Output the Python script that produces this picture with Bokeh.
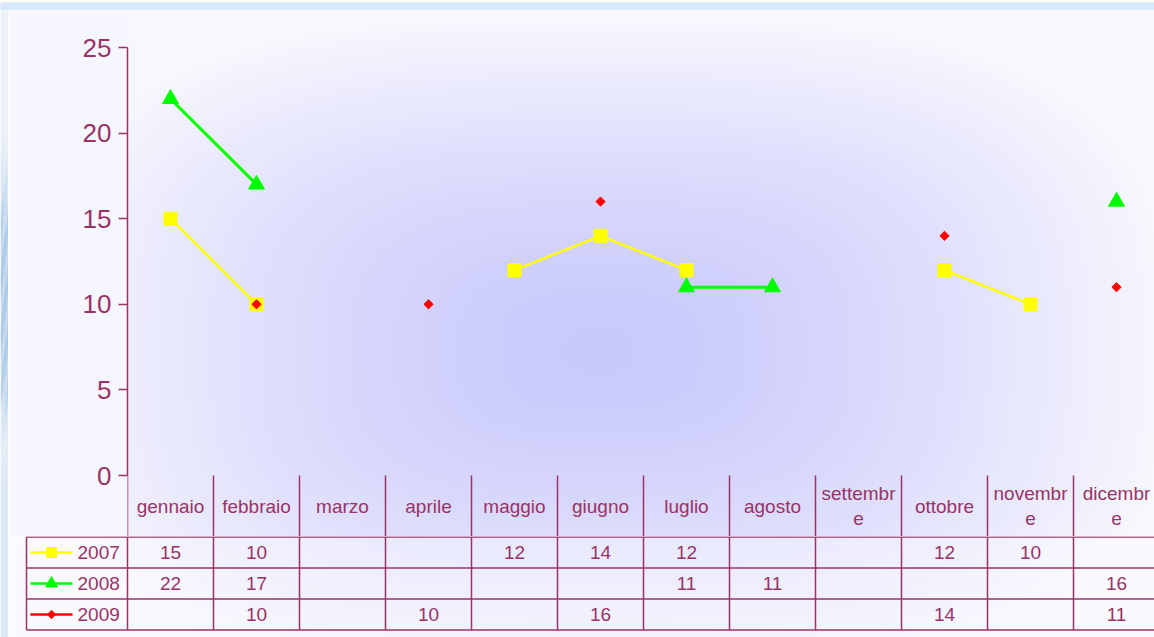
import numpy as np
from bokeh.plotting import figure
from bokeh.models import Range1d, FixedTicker, Grid
from bokeh.layouts import column, row
from bokeh.embed import file_html
from bokeh.resources import INLINE
from bokeh.core.properties import value

# ---------------- data ----------------
months = ["gennaio", "febbraio", "marzo", "aprile", "maggio", "giugno",
          "luglio", "agosto", "settembre", "ottobre", "novembre", "dicembre"]
month_labels = ["gennaio", "febbraio", "marzo", "aprile", "maggio", "giugno",
                "luglio", "agosto", "settembr\ne", "ottobre", "novembr\ne", "dicembr\ne"]
nan = float("nan")
s2007 = [15, 10, nan, nan, 12, 14, 12, nan, nan, 12, 10, nan]
s2008 = [22, 17, nan, nan, nan, nan, 11, 11, nan, nan, nan, 16]
s2009 = [nan, 10, nan, 10, nan, 16, nan, nan, nan, 14, nan, 11]
series_names = ["2007", "2008", "2009"]
y_ticks = [0, 5, 10, 15, 20, 25]

# ---------------- style / layout constants (page pixels) ----------------
FONT = "Liberation Sans"
PLUM = "#993366"
COLORS = ["#FFFF00", "#00FF00", "#FF0000"]
PAGE_W, PAGE_H = 1154, 637
STRIP_TOP = 10
STRIP_LEFT = 8
AXIS_X = 127        # page x of y axis
COLW = 86           # px per category
ZERO_PY = 475       # page y of value 0
PXU = 428 / 25      # px per y unit
HEAD_BOTTOM = 536   # page y of header-row bottom
TABLE_BOTTOM = 629.5
ROW_H = 31

n = len(months)
xc = [i + 0.5 for i in range(n)]
bounds_x = list(range(n + 1))
W = PAGE_W - STRIP_LEFT
H1 = HEAD_BOTTOM - STRIP_TOP
H2 = PAGE_H - HEAD_BOTTOM
x_end = (PAGE_W - AXIS_X) / COLW
y_bottom = -(HEAD_BOTTOM - ZERO_PY) / PXU
y_top = (ZERO_PY - STRIP_TOP) / PXU


def pack(r, g, b):
    img = np.empty(r.shape, dtype=np.uint32)
    v = img.view(dtype=np.uint8).reshape(r.shape + (4,))
    v[..., 0] = np.clip(r, 0, 255).astype(np.uint8)
    v[..., 1] = np.clip(g, 0, 255).astype(np.uint8)
    v[..., 2] = np.clip(b, 0, 255).astype(np.uint8)
    v[..., 3] = 255
    return img


def lavender(xr, yr):
    cx, cy, rx, ry = 600.0, 350.0, 560.0, 330.0
    p = 3.0
    d = ((np.abs(xr - cx) / rx) ** p + (np.abs(yr - cy) / ry) ** p) ** (1 / p)
    t = np.clip(1 - d ** 1.4, 0, 1)
    inner = (201, 201, 252)
    outer = (247, 247, 254)
    return pack(*[outer[k] + (inner[k] - outer[k]) * t for k in range(3)])


def bare(width, height, xr=(0, 1), yr=(0, 1)):
    f = figure(width=width, height=height, output_backend="svg", toolbar_location=None,
               x_range=Range1d(*xr), y_range=Range1d(*yr),
               x_axis_location=None, y_axis_location=None,
               min_border_left=0, min_border_right=0, min_border_top=0, min_border_bottom=0)
    try:
        f.frame_align = False
    except Exception:
        pass
    f.outline_line_color = None
    f.grid.visible = False
    return f


# ---------------- decorative slide strips ----------------
top_strip = bare(PAGE_W, STRIP_TOP)
top_strip.background_fill_color = "#D8E7F9"
top_strip.border_fill_color = "#D8E7F9"
top_strip.quad(left=[0], right=[1], bottom=[0], top=[1], fill_color="#D8E7F9", line_color=None)

left_strip = bare(STRIP_LEFT, PAGE_H - STRIP_TOP)
ly = np.arange(STRIP_TOP, PAGE_H)[::-1].astype(float)
lx = np.arange(STRIP_LEFT).astype(float)
LX, LY = np.meshgrid(lx, ly)
blue = np.exp(-((LY - 300) / 120.0) ** 4) * (0.75 + 0.25 * np.cos(LY / 9.0 + LX))
low = np.clip((LY - 420) / 80.0, 0, 1) * 0.25
amt = np.maximum(blue, low)
left_strip.image_rgba(image=[pack(236 - 66 * amt, 242 - 42 * amt, 250 - 20 * amt)],
                      x=0, y=0, dw=1, dh=1)

# ---------------- chart figure (plot + header row) ----------------
p1 = figure(width=W, height=H1, output_backend="svg", toolbar_location=None,
            x_range=Range1d(0, x_end), y_range=Range1d(y_bottom, y_top),
            x_axis_location=None, y_axis_location="left",
            min_border_left=AXIS_X - STRIP_LEFT, min_border_right=0,
            min_border_top=0, min_border_bottom=0)
try:
    p1.frame_align = False
except Exception:
    pass
p1.outline_line_color = None
p1.border_fill_color = "#F6F6FE"
p1.background_fill_color = "#F2F2FE"

nx, ny = 257, 132
gx = AXIS_X + (np.arange(nx) + 0.5) * ((PAGE_W - AXIS_X) / nx)
gy = HEAD_BOTTOM - (np.arange(ny) + 0.5) * (H1 / ny)
XX, YY = np.meshgrid(gx, gy)
p1.image_rgba(image=[lavender(XX, YY)], x=0, y=y_bottom, dw=x_end, dh=y_top - y_bottom)

ax = p1.yaxis[0]
ax.ticker = FixedTicker(ticks=y_ticks)
ax.bounds = (0, 25)
ax.axis_line_color = PLUM
ax.axis_line_width = 1.5
ax.major_tick_line_color = PLUM
ax.major_tick_line_width = 1.5
ax.major_tick_out = 9
ax.major_tick_in = 0
ax.minor_tick_out = 0
ax.minor_tick_in = 0
ax.major_label_text_font = FONT
ax.major_label_text_font_size = "26px"
ax.major_label_text_color = PLUM
ax.major_label_standoff = 7

p1.xgrid.visible = False
p1.ygrid.ticker = FixedTicker(ticks=y_ticks[:-1])
p1.ygrid.grid_line_color = PLUM
p1.ygrid.grid_line_width = 1.3
p1.add_layout(Grid(dimension=1, ticker=FixedTicker(ticks=y_ticks[-1:]),
                   grid_line_color="#E8CEDC", grid_line_width=2))

# header row of the data table
p1.segment(x0=bounds_x, y0=[0] * (n + 1), x1=bounds_x, y1=[y_bottom] * (n + 1),
           line_color=PLUM, line_width=1.5)
p1.text(x=xc, y=[y_bottom / 2] * n, text=month_labels,
        text_font=value(FONT), text_font_size="19px", text_color=PLUM,
        text_align="center", text_baseline="middle", text_line_height=1.2)

# series
data = [s2007, s2008, s2009]
p1.line(xc, s2007, line_color=COLORS[0], line_width=2.5)
p1.line(xc, s2008, line_color=COLORS[1], line_width=3)
p1.line(xc, s2009, line_color=COLORS[2], line_width=2.5)
p1.scatter(xc, s2007, marker="square", size=13, fill_color=COLORS[0], line_color=COLORS[0])
p1.scatter(xc, s2008, marker="triangle", size=16, fill_color=COLORS[1], line_color=COLORS[1])
p1.scatter(xc, s2009, marker="square", angle=np.pi / 4, size=6.5,
           fill_color=COLORS[2], line_color=COLORS[2])

# ---------------- data table body ----------------
x_start2 = -(AXIS_X - STRIP_LEFT) / COLW
y2_top = 3 + (TABLE_BOTTOM - 3 * ROW_H - HEAD_BOTTOM + 0.0) / ROW_H * 0 + 0.5 / ROW_H
y2_bottom = -(PAGE_H - TABLE_BOTTOM) / ROW_H
p2 = bare(W, H2, (x_start2, x_end), (y2_bottom, y2_top))
p2.border_fill_color = "#F6F6FE"

nx2, ny2 = 287, 26
gx2 = STRIP_LEFT + (np.arange(nx2) + 0.5) * (W / nx2)
gy2 = PAGE_H - (np.arange(ny2) + 0.5) * (H2 / ny2)
XX2, YY2 = np.meshgrid(gx2, gy2)
p2.image_rgba(image=[lavender(XX2, YY2)], x=x_start2, y=y2_bottom,
              dw=x_end - x_start2, dh=y2_top - y2_bottom)
p2.quad(left=[x_start2], right=[x_end], bottom=[y2_bottom], top=[y2_top],
        fill_color="white", fill_alpha=0.35, line_color=None)

leg_left = -(AXIS_X - 26) / COLW
rows_y = [3, 2, 1, 0]
p2.segment(x0=[leg_left] * 4, y0=rows_y, x1=[x_end] * 4, y1=rows_y,
           line_color=PLUM, line_width=1.5)
vx = [leg_left] + bounds_x
p2.segment(x0=vx, y0=[0] * len(vx), x1=vx, y1=[3] * len(vx), line_color=PLUM, line_width=1.5)

markers = [("square", 10, 0), ("triangle", 12, 0), ("square", 6, np.pi / 4)]
for r, (name, vals) in enumerate(zip(series_names, data)):
    yc = 2.5 - r
    lx0 = -(AXIS_X - 30) / COLW
    lx1 = -(AXIS_X - 72) / COLW
    lxm = -(AXIS_X - 51) / COLW
    p2.segment(x0=[lx0], y0=[yc], x1=[lx1], y1=[yc], line_color=COLORS[r], line_width=2.5)
    mk, sz, ang = markers[r]
    p2.scatter([lxm], [yc], marker=mk, size=sz, angle=ang,
               fill_color=COLORS[r], line_color=COLORS[r])
    p2.text(x=[-(AXIS_X - 77) / COLW], y=[yc], text=[name], text_font=value(FONT),
            text_font_size="19px", text_color=PLUM, text_align="left", text_baseline="middle")
    xs = [xc[i] for i in range(n) if vals[i] == vals[i]]
    ts = [str(int(vals[i])) for i in range(n) if vals[i] == vals[i]]
    p2.text(x=xs, y=[yc] * len(xs), text=ts, text_font=value(FONT),
            text_font_size="19px", text_color=PLUM, text_align="center", text_baseline="middle")

layout = column(top_strip, row(left_strip, column(p1, p2, spacing=0), spacing=0), spacing=0)
open("out.html", "w").write(file_html(layout, INLINE))
